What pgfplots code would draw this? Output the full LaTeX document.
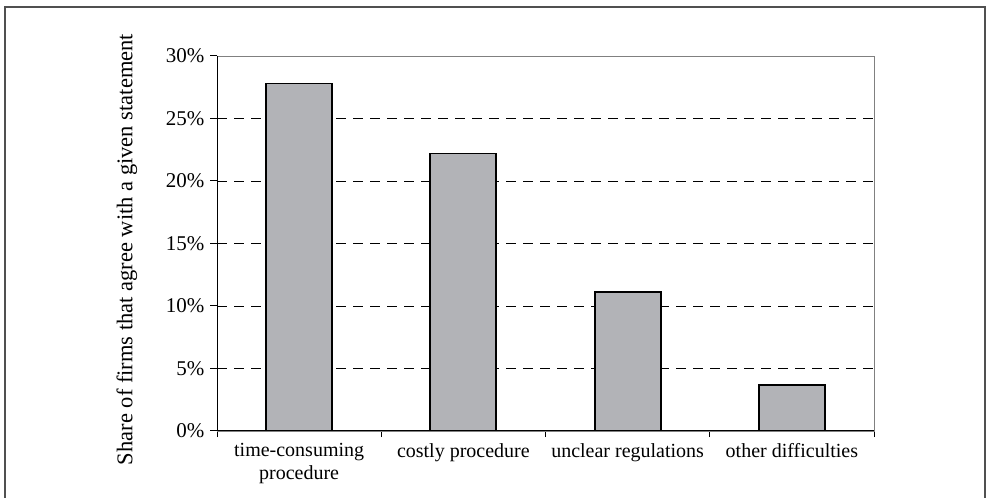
\documentclass[border=0pt]{standalone}
\usepackage{pgfplots}
\pgfplotsset{compat=1.18}
\usepackage{fontspec}
\setmainfont{Liberation Serif}
\definecolor{barfill}{RGB}{178,179,183}
\definecolor{framegray}{RGB}{80,80,80}
\begin{document}
\begin{tikzpicture}[x=1pt,y=1pt]
\useasboundingbox (0,0) rectangle (988,498);
\draw[framegray, line width=1.5pt] (5,-20) -- (5,491) -- (985,491) -- (985,-20);
\begin{axis}[
  at={(217pt,67pt)}, anchor=south west,
  scale only axis, width=657pt, height=375pt,
  xmin=-0.5, xmax=3.5, ymin=0, ymax=30,
  xtick={0,1,2,3},
  xticklabels={{time-consuming\\[3pt]procedure},{costly procedure},{unclear regulations},{other difficulties}},
  xticklabel style={align=center, font=\fontsize{20}{20}\selectfont, text depth=0pt, yshift=-2pt},
  minor xtick={-0.5,0.5,1.5,2.5,3.5},
  ytick={0,5,10,15,20,25,30},
  yticklabels={0\%,5\%,10\%,15\%,20\%,25\%,30\%},
  yticklabel style={font=\fontsize{21}{24}\selectfont, xshift=-2pt},
  xtick pos=bottom, ytick pos=left,
  tick align=outside,
  major x tick style={draw=none},
  minor tick length=6pt,
  major tick length=7pt,
  tick style={black, line width=1pt},
  axis line style={draw=gray, line width=0.8pt},
  ymajorgrids,
  major grid style={black, line width=0.8pt, dash pattern=on 10pt off 7pt},
  ylabel={Share of firms that agree with a given statement},
  ylabel style={at={(axis description cs:-0.137,0.484)}, anchor=center, rotate=0, font=\fontsize{22.5}{26}\selectfont},
  ybar, bar width=66pt,
]
\addplot[fill=barfill, draw=black, line width=1.8pt] coordinates {(0,27.8) (1,22.2) (2,11.1) (3,3.7)};
\draw[black, line width=1.4pt] (rel axis cs:0,1) -- (rel axis cs:0,0) -- (rel axis cs:1,0);
\end{axis}
\end{tikzpicture}
\end{document}
